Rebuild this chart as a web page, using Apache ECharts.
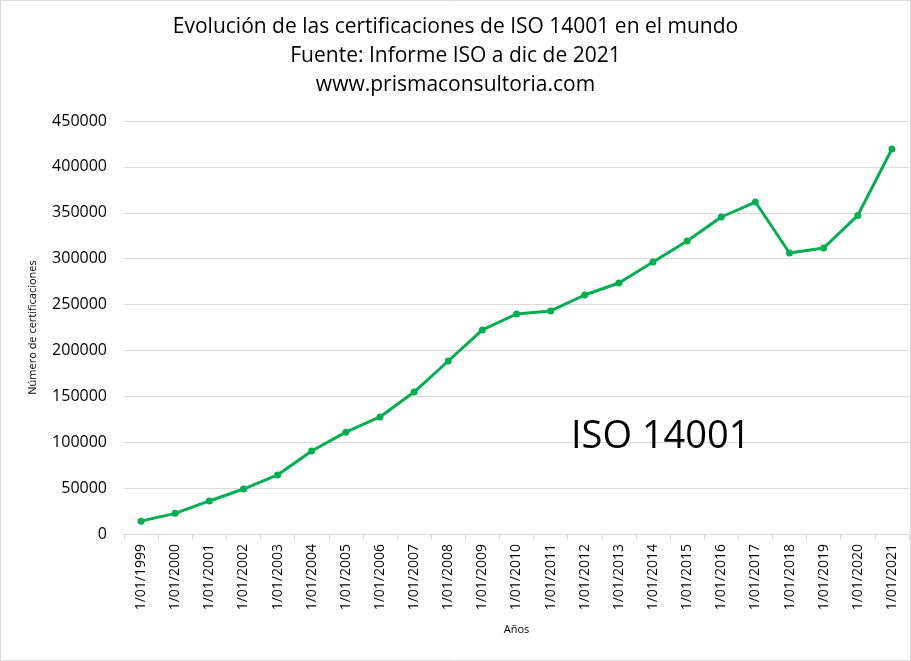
<!DOCTYPE html>
<html lang="es">
<head>
    <meta charset="UTF-8">
    <title>ISO 14001</title>
    <script src="https://cdn.jsdelivr.net/npm/echarts@6/dist/echarts.min.js"></script>
    <style>
        html, body { margin: 0; padding: 0; background: #fff; }
        #chart { width: 911px; height: 661px; }
    </style>
</head>
<body>
<div id="chart"></div>
<script type="text/javascript">
    // datos
    var years = ['1/01/1999','1/01/2000','1/01/2001','1/01/2002','1/01/2003','1/01/2004',
        '1/01/2005','1/01/2006','1/01/2007','1/01/2008','1/01/2009','1/01/2010',
        '1/01/2011','1/01/2012','1/01/2013','1/01/2014','1/01/2015','1/01/2016',
        '1/01/2017','1/01/2018','1/01/2019','1/01/2020','1/01/2021'];
    var certificaciones = [14000, 22500, 36000, 49000, 64300, 90400,
        111000, 127500, 154700, 188500, 222300, 239700,
        243000, 260400, 273500, 296400, 319200, 345400,
        361700, 306200, 311600, 347100, 419500];
    var titleLines = ['Evolución de las certificaciones de ISO 14001 en el mundo',
        'Fuente: Informe ISO a dic de 2021',
        'www.prismaconsultoria.com'];

    var font = 'Open Sans, Noto Sans, sans-serif';
    var chart = echarts.init(document.getElementById('chart'));
    chart.setOption({
        animation: false,
        backgroundColor: '#fff',
        title: {
            text: titleLines.join('\n'),
            left: 'center',
            top: 8,
            textStyle: {
                fontFamily: font,
                fontWeight: 'normal',
                fontSize: 21,
                lineHeight: 29,
                color: '#000'
            }
        },
        grid: { left: 124, right: 2, top: 121, bottom: 127 },
        xAxis: {
            type: 'category',
            data: years,
            name: 'Años',
            nameLocation: 'middle',
            nameGap: 90,
            nameTextStyle: { fontFamily: font, fontSize: 11, color: '#000' },
            axisLine: { lineStyle: { color: '#d9d9d9' } },
            axisTick: { show: true, length: 6, lineStyle: { color: '#d9d9d9' } },
            axisLabel: {
                rotate: 90,
                interval: 0,
                margin: 10,
                fontFamily: font,
                fontSize: 14,
                color: '#000'
            }
        },
        yAxis: {
            type: 'value',
            min: 0,
            max: 450000,
            interval: 50000,
            name: 'Número de certificaciones',
            nameLocation: 'middle',
            nameGap: 86,
            nameRotate: 90,
            nameTextStyle: { fontFamily: font, fontSize: 11, color: '#000' },
            axisLine: { show: false },
            axisTick: { show: false },
            axisLabel: {
                margin: 17,
                fontFamily: font,
                fontSize: 16,
                color: '#000',
                formatter: function (v) { return String(v); }
            },
            splitLine: { lineStyle: { color: '#d9d9d9' } }
        },
        series: [{
            name: 'ISO 14001',
            type: 'line',
            data: certificaciones,
            symbol: 'circle',
            symbolSize: 7,
            itemStyle: { color: '#00b050' },
            lineStyle: { color: '#00b050', width: 3 }
        }],
        graphic: [{
            type: 'text',
            x: 571,
            y: 437,
            z: 100,
            style: {
                text: 'ISO 14001',
                fontFamily: font,
                fontSize: 38,
                verticalAlign: 'middle',
                fill: '#000'
            }
        }, {
            type: 'rect',
            shape: { x: 0.5, y: 0.5, width: 910, height: 660 },
            style: { fill: 'none', stroke: '#d9d9d9', lineWidth: 1 },
            silent: true
        }]
    });
</script>
</body>
</html>
